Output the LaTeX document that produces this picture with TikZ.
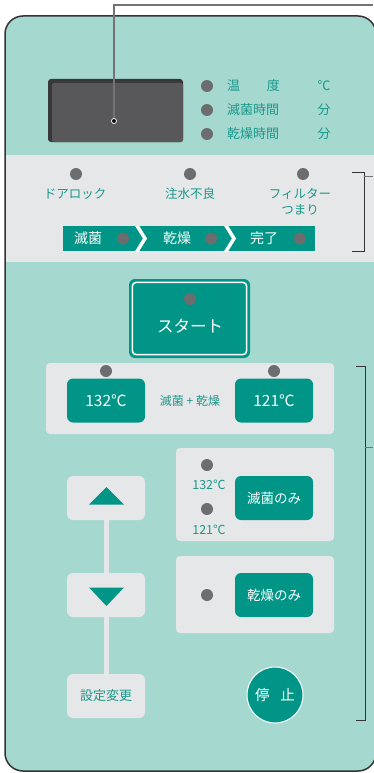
\documentclass[tikz,border=0pt]{standalone}
\usepackage{fontspec}
\newfontfamily\jp{Noto Sans CJK JP}
\usetikzlibrary{positioning}
\definecolor{panelgreen}{HTML}{A5D9D0}
\definecolor{bandgray}{HTML}{E6E7E8}
\definecolor{btnteal}{HTML}{009587}
\definecolor{ledgray}{HTML}{6D6D70}
\definecolor{dispgray}{HTML}{58585A}
\definecolor{txtteal}{HTML}{1A988B}

\begin{document}
\begin{tikzpicture}[x=1pt,y=-1pt,font=\jp]
    \tikzstyle{led}=[circle,fill=ledgray,minimum size=12pt,inner sep=0pt]
    \tikzstyle{lamptext}=[text=txtteal,inner sep=0pt,font=\jp\fontsize{13}{14}\selectfont]
    \tikzstyle{tealkey}=[fill=btnteal,rounded corners=6pt,text=white,minimum width=78pt,minimum height=44pt,inner sep=0pt,font=\jp\fontsize{13.5}{15}\selectfont]
    \tikzstyle{graykey}=[fill=bandgray,rounded corners=6pt,minimum width=78pt,minimum height=44pt,inner sep=0pt]
    \tikzstyle{keybox}=[fill=bandgray,rounded corners=4pt]
    \tikzstyle{bracket}=[draw=black!80,line width=1pt]
    \tikzstyle{leader}=[draw=black!55,line width=1.2pt]
    \tikzstyle{chevron}=[draw=white,line width=3.5pt]

    \useasboundingbox (0,0) rectangle (373,773);

    % panel and status band
    \fill[panelgreen,rounded corners=18pt] (5,16) rectangle (376,771);
    \fill[bandgray] (6,155) rectangle (376,262);
    \draw[black!80,line width=1.5pt,rounded corners=18pt] (5,16) rectangle (376,771);

    % display
    \fill[black!78,rounded corners=3pt] (48,79) rectangle (183,142);
    \fill[dispgray,rounded corners=2pt] (52,83) rectangle (183,142);
    \node[circle,draw=white,fill=black,line width=0.8pt,minimum size=5pt,inner sep=0pt] (pointer) at (114,121) {};
    \coordinate (lead-top) at (373,5);
    \draw[leader] (pointer.north) |- (lead-top);

    \node[led] (L-temp) at (207,86) {};
    \node[led] (L-ster) at (207,110) {};
    \node[led] (L-dry) at (207,134) {};
    \node[lamptext,anchor=west] (T-temp1) at (227,86) {温};
    \node[lamptext,anchor=east] (T-temp2) at (280,86) {度};
    \node[lamptext,anchor=west] (T-ster) at (227,110) {滅菌時間};
    \node[lamptext,anchor=west] (T-dry) at (227,134) {乾燥時間};
    \node[lamptext] (U-temp) at (324,86) {℃};
    \node[lamptext] (U-ster) at (324,110) {分};
    \node[lamptext] (U-dry) at (324,134) {分};

    % alarm lamps
    \node[led] (A-door) at (76,174) {};
    \node[led] (A-water) at (190,174) {};
    \node[led] (A-filter) at (303,174) {};
    \node[lamptext,font=\jp\fontsize{12.5}{16}\selectfont] (AT-door) at (75,194) {ドアロック};
    \node[lamptext,font=\jp\fontsize{12.5}{16}\selectfont] (AT-water) at (190,194) {注水不良};
    \node[lamptext,font=\jp\fontsize{12.5}{16}\selectfont,align=center] (AT-filter) at (300,202) {フィルター\\つまり};

    % progress bar
    \begin{scope}
        \clip (63,226) rectangle (315,251);
        \fill[btnteal] (63,226) rectangle (315,251);
        \draw[chevron] (136,224) -- (145,238.5) -- (136,253);
        \draw[chevron] (225,224) -- (234,238.5) -- (225,253);
    \end{scope}
    \node[text=white,font=\jp\fontsize{14}{16}\selectfont] (P-ster) at (88,238.5) {滅菌};
    \node[led] (PL-ster) at (123,238.5) {};
    \node[text=white,font=\jp\fontsize{14}{16}\selectfont] (P-dry) at (177,238.5) {乾燥};
    \node[led] (PL-dry) at (211,238.5) {};
    \node[text=white,font=\jp\fontsize{14}{16}\selectfont] (P-done) at (264,238.5) {完了};
    \node[led] (PL-done) at (300,238.5) {};

    % start key
    \node[fill=btnteal,rounded corners=6pt,minimum width=121pt,minimum height=79pt] (start) at (189.5,318.5) {};
    \draw[white,line width=1.5pt,rounded corners=4pt] ([shift={(3.5pt,3.5pt)}]start.south west) rectangle ([shift={(-3.5pt,-3.5pt)}]start.north east);
    \node[led] (L-start) at (190,299) {};
    \node[text=white,font=\jp\fontsize{16.5}{18}\selectfont] (T-start) at (190,326) {スタート};

    % sterilize + dry
    \fill[keybox] (46,363) rectangle (334,434);
    \node[led] (L-132) at (106,371) {};
    \node[led] (L-121) at (274,371) {};
    \node[tealkey,font=\jp\fontsize{15.5}{17}\selectfont] (K-132) at (106,400.5) {132℃};
    \node[tealkey,font=\jp\fontsize{15.5}{17}\selectfont] (K-121) at (274,400.5) {121℃};
    \node[lamptext,font=\jp\fontsize{12}{13}\selectfont] (T-both) at (190,401) {滅菌 + 乾燥};

    % sterilize only
    \fill[keybox] (176,448) rectangle (334,541);
    \node[led] (L-s132) at (207,465) {};
    \node[lamptext,font=\jp\fontsize{12.5}{13}\selectfont] (T-s132) at (209,485) {132℃};
    \node[led] (L-s121) at (207,509) {};
    \node[lamptext,font=\jp\fontsize{12.5}{13}\selectfont] (T-s121) at (209,530) {121℃};
    \node[tealkey] (K-ster) at (274,498) {滅菌のみ};

    % dry only
    \fill[keybox] (176,556) rectangle (334,633);
    \node[led] (L-donly) at (207,595) {};
    \node[tealkey] (K-dry) at (274,595) {乾燥のみ};

    % setting keys
    \node[graykey] (K-set) at (106,696) {};
    \node[graykey] (K-up) at (106,498) {};
    \node[graykey] (K-down) at (106,595) {};
    \draw[bandgray,line width=5pt] (K-up.south) -- (K-down.north);
    \draw[bandgray,line width=5pt] (K-down.south) -- (K-set.north);
    \fill[btnteal] (89,504.5) -- (124,504.5) -- (106.5,487) -- cycle;
    \fill[btnteal] (89,587.5) -- (124,587.5) -- (106.5,606) -- cycle;
    \node[lamptext,font=\jp\fontsize{13}{14}\selectfont] (T-set) at (106,696) {設定変更};

    % stop key
    \node[circle,fill=btnteal,draw=white,line width=1pt,minimum size=56pt,inner sep=0pt,text=white,font=\jp\fontsize{14.5}{16}\selectfont] (stop) at (275,695) {停\hspace{11pt}止};

    % brackets
    \coordinate (B1-top) at (352,172);
    \coordinate (B1-bot) at (352,251);
    \coordinate (B1-out) at (373,176);
    \draw[bracket] (B1-top) -- ++(12,0) |- (B1-bot);
    \draw[leader,line width=1pt] (364,176) -- (B1-out);
    \coordinate (B2-top) at (356,366);
    \coordinate (B2-bot) at (356,720);
    \coordinate (B2-out) at (373,447);
    \draw[bracket] (B2-top) -- ++(9,0) |- (B2-bot);
    \draw[leader,line width=1pt] (365,447) -- (B2-out);
\end{tikzpicture}
\end{document}
